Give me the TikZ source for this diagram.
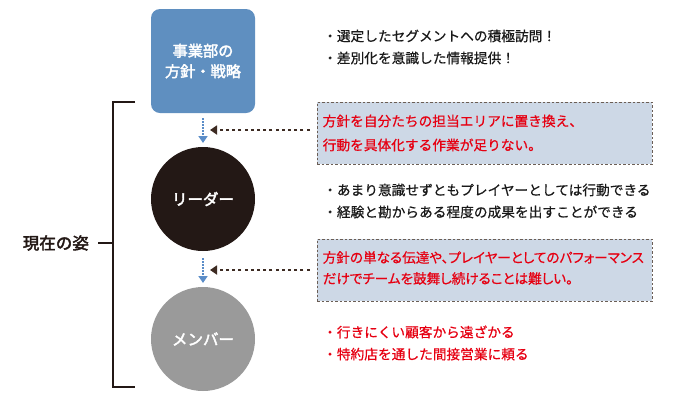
\documentclass[tikz,border=0pt]{standalone}
\usepackage{fontspec}
\setmainfont{Noto Sans CJK JP}[FakeBold=0.6]
\newfontfamily\paltfont{Noto Sans CJK JP}[RawFeature=+palt, FakeBold=0.6]
\newfontfamily\jpb{Noto Sans CJK JP}[FakeBold=2.5]
\usetikzlibrary{arrows.meta}
\definecolor{boxblue}{HTML}{5F8FC0}
\definecolor{leaderblack}{HTML}{231815}
\definecolor{membergray}{HTML}{9A9A9A}
\definecolor{notefill}{HTML}{CDD8E6}
\definecolor{noteedge}{HTML}{6B5E55}
\definecolor{notered}{HTML}{E60012}
\definecolor{arrowblue}{HTML}{5B8DC8}
\definecolor{arrowbrown}{HTML}{3D2B22}
\tikzset{
  rolecircle/.style={circle, minimum size=104pt, inner sep=0pt, text=white, align=center},
  notebox/.style={draw=noteedge, line width=0.9pt, dash pattern=on 2.5pt off 2pt, fill=notefill, minimum width=335pt, minimum height=62pt, inner sep=0pt},
  notetext/.style={text=notered, font=\fontsize{13.7}{24}\selectfont, align=left, anchor=west, inner sep=0pt},
  bullettext/.style={text=black!90, font=\fontsize{13.7}{22}\selectfont, align=left, anchor=west, inner sep=0pt},
  downarrow/.style={draw=arrowblue, line width=2pt, dash pattern=on 1.6pt off 1.4pt, -{Triangle[width=9pt,length=7pt,fill=arrowblue]}},
  leftarrow/.style={draw=arrowbrown, line width=2.6pt, dash pattern=on 3pt off 3.2pt, -{Triangle[width=9pt,length=7pt,fill=arrowbrown]}},
  bracket/.style={draw=leaderblack, line width=1.3pt}
}
\begin{document}
\begin{tikzpicture}[x=1pt,y=-1pt]
\useasboundingbox (0,0) rectangle (690,400);
% nodes
\node[rectangle, rounded corners=9pt, fill=boxblue, minimum width=104pt, minimum height=104pt, inner sep=0pt, text=white, font=\jpb\fontsize{15.2}{20.5}\selectfont, align=center] (hq) at (203,61) {事業部の\\方針・戦略};
\node[rolecircle, fill=leaderblack, font=\jpb\fontsize{15.5}{19}\selectfont] (leader) at (203,199) {リーダー};
\node[rolecircle, fill=membergray, font=\jpb\fontsize{15.5}{19}\selectfont] (member) at (203,339) {メンバー};
% note boxes
\node[notebox] (note1) at (484.5,133) {};
\node[notebox] (note2) at (484.5,270) {};
\node[notetext] (note1t) at ([xshift=6pt,yshift=0pt]note1.west) {方針を自分たちの担当エリアに置き換え、\\行動を具体化する作業が足りない。};
\node[notetext, font=\paltfont\fontsize{13.6}{21}\selectfont] (note2t) at ([xshift=6pt,yshift=2pt]note2.west) {方針の単なる伝達や、プレイヤーとしてのパフォーマンス\\だけでチームを鼓舞し続けることは難しい。};
% bullet texts
\node[bullettext] (b1) at (323,47) {・選定したセグメントへの積極訪問！\\・差別化を意識した情報提供！};
\node[bullettext] (b2) at (323,201) {・あまり意識せずともプレイヤーとしては行動できる\\・経験と勘からある程度の成果を出すことができる};
\node[bullettext, text=notered] (b3) at (323,343) {・行きにくい顧客から遠ざかる\\・特約店を通した間接営業に頼る};
% arrows
\coordinate (a1s) at (203,118);
\coordinate (a1e) at (203,143);
\coordinate (a2s) at (203,258);
\coordinate (a2e) at (203,283);
\draw[downarrow] (a1s) -- (a1e);
\draw[downarrow] (a2s) -- (a2e);
\draw[leftarrow] ([xshift=-7pt]note1.west |- 0,130) -- (210,130);
\draw[leftarrow] ([xshift=-7pt]note2.west |- 0,270) -- (210,270);
% bracket
\coordinate (brt) at (135,102);
\coordinate (brb) at (135,387);
\coordinate (brm) at (113,243);
\draw[bracket] (brt) -- (113,102) -- (113,387) -- (brb);
\draw[bracket] (brm) -- (98,243);
\node[font=\jpb\fontsize{16.5}{19}\selectfont, text=leaderblack, anchor=east, inner sep=0pt] (label) at (89,243) {現在の姿};
\end{tikzpicture}
\end{document}
